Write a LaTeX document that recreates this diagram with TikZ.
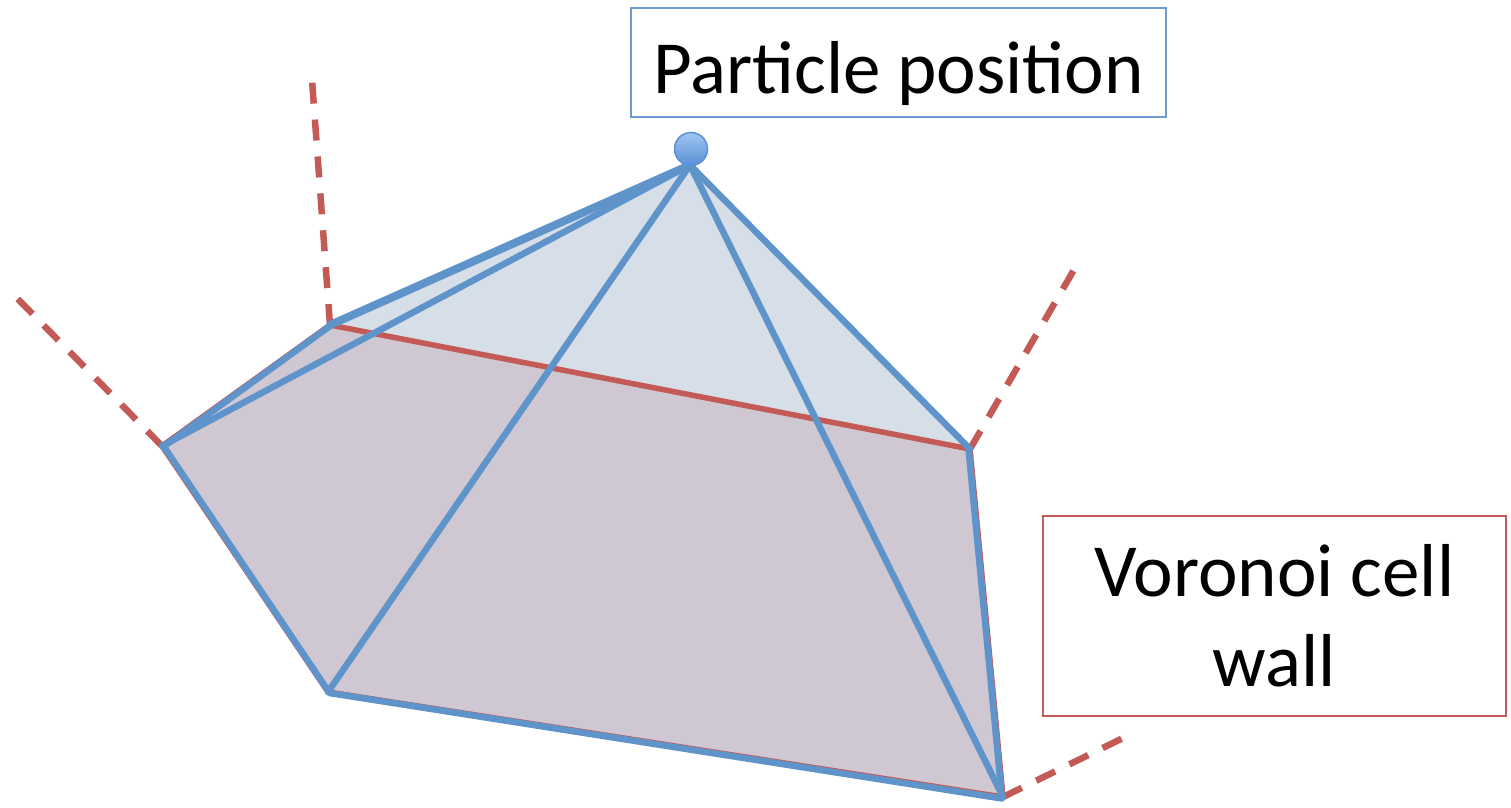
\documentclass[tikz,border=0pt]{standalone}
\usepackage{fontspec}
\setmainfont{Carlito}
\definecolor{cellred}{RGB}{196,90,86}
\definecolor{edgeblue}{RGB}{95,148,203}
\definecolor{topfill}{RGB}{214,222,231}
\definecolor{basefill}{RGB}{207,200,210}
\definecolor{boxblue}{RGB}{110,155,210}
\definecolor{dotlight}{RGB}{160,196,240}
\definecolor{dotdark}{RGB}{90,145,215}
\tikzset{
  wall/.style={draw=cellred,line width=5.5pt,line join=round},
  pyr/.style={draw=edgeblue,line width=6.5pt,line join=round,line cap=round},
  ext/.style={draw=cellred,line width=6.5pt,dash pattern=on 21pt off 16pt},
  label/.style={draw,line width=1.5pt,fill=white,font=\fontsize{75}{90}\selectfont,align=center,inner sep=0pt}
}
\begin{document}
\begin{tikzpicture}[x=1pt,y=-1pt]
\useasboundingbox (0,0) rectangle (1511,807);
\coordinate (P) at (690,165);
\coordinate (A) at (330,325);
\coordinate (B) at (162,446);
\coordinate (C) at (328,692);
\coordinate (D) at (1003,797);
\coordinate (E) at (970,449);
\coordinate (Ae) at (312.2,82.7);
\coordinate (Be) at (17.8,298.9);
\coordinate (Ee) at (1073.3,270.9);
\coordinate (De) at (1121.5,738.7);
% fills
\fill[topfill] (P) -- (A) -- (B) -- (C) -- (D) -- (E) -- cycle;
\fill[basefill] (A) -- (B) -- (C) -- (D) -- (E) -- cycle;
% dashed extensions
\draw[ext] (A) -- (Ae);
\draw[ext] (B) -- (Be);
\draw[ext] (E) -- (Ee);
\draw[ext] (D) -- (De);
% cell wall
\draw[wall] (A) -- (B) -- (C) -- (D) -- (E) -- cycle;
% pyramid edges
\draw[pyr] ([yshift=-1pt]A) -- ([yshift=-1pt,xshift=1pt]B);
\draw[pyr] ([xshift=1.5pt]B) -- ([xshift=1.5pt,yshift=-1pt]C) -- ([xshift=-1pt,yshift=-1.5pt]D) -- ([xshift=-1.5pt]E);
\draw[pyr,line width=8pt] (P) -- (A);
\draw[pyr] (P) -- (B);
\draw[pyr] (P) -- (C);
\draw[pyr] (P) -- (D);
\draw[pyr] (P) -- (E);
% particle
\node[circle,minimum size=33pt,inner sep=0pt,draw=dotdark,line width=1.5pt,top color=dotlight,bottom color=dotdark] (dot) at (691,149) {};
% labels
\node[label,draw=boxblue,minimum width=535pt,minimum height=109pt,text height=70pt,text depth=9pt] (lp) at (898.5,62.5) {Particle position};
\node[label,draw=cellred,minimum width=463pt,minimum height=200pt] (lv) at (1274.5,616) {Voronoi cell\\wall};
\end{tikzpicture}
\end{document}
